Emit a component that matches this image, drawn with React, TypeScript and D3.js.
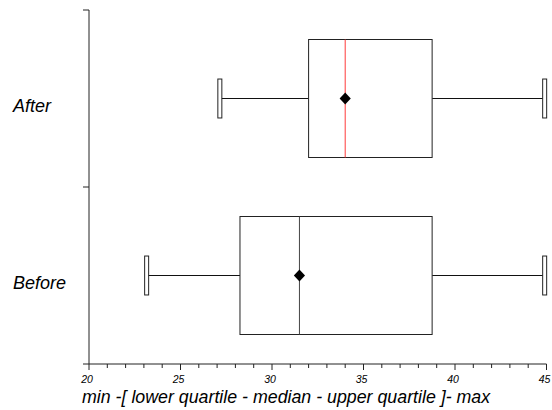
import * as d3 from "d3";

// one row per group, bottom to top in the picture
const groups = ["After", "Before"];
const mins = [27.15, 23.15];
const lowerQuartiles = [32.0, 28.25];
const medians = [34.0, 31.5];
const upperQuartiles = [38.75, 38.75];
const maxes = [44.9, 44.9];
const means = [34.0, 31.5];
const medianColors = ["#ff3b3b", "#444444"];

const xTicks = [20, 25, 30, 35, 40, 45];
const xMinorTicks = d3.range(20, 46, 1);

const width = 552;
const height = 410;
const left = 89;
const right = 546.5;
const top = 10;
const bottom = 364;

const App = () => {
  const x = d3.scaleLinear().domain([20, 45]).range([left, right]);
  const y = d3.scaleBand().domain(groups).range([top, bottom]);
  const band = y.bandwidth();
  const boxH = (band * 2) / 3;
  const capH = band * 0.22;
  const capW = 4;
  const diamond = d3.symbol().type(d3.symbolDiamond).size(75)();

  return (
    <svg
      width={width}
      height={height}
      style={{ position: "absolute", left: 0, top: 0, background: "#fff" }}
      fontFamily="'Liberation Sans', Arial, sans-serif"
    >
      {/* axes */}
      <line x1={left} x2={left} y1={top} y2={bottom} stroke="#222" />
      <line x1={left} x2={right} y1={bottom} y2={bottom} stroke="#222" />
      {[top, ...groups.map((g) => y(g)! + band)].map((v, i) => (
        <line key={i} x1={left - 6} x2={left} y1={v} y2={v} stroke="#222" />
      ))}
      {xMinorTicks.map((t) => (
        <line
          key={t}
          x1={x(t)}
          x2={x(t)}
          y1={bottom}
          y2={bottom + (t % 5 === 0 ? 6 : 4)}
          stroke="#222"
        />
      ))}
      {xTicks.map((t) => (
        <text
          key={t}
          x={x(t) - 2}
          y={383}
          fontSize={10.5}
          fontStyle="italic"
          textAnchor="middle"
        >
          {t}
        </text>
      ))}
      <text x={82} y={403} fontSize={17.8} fontStyle="italic">
        min -[ lower quartile - median - upper quartile ]- max
      </text>

      {groups.map((g, i) => {
        const cy = y(g)! + band / 2;
        return (
          <g key={g}>
            <text x={13} y={cy + 13} fontSize={18} fontStyle="italic">
              {g}
            </text>
            <line
              x1={x(mins[i])}
              x2={x(lowerQuartiles[i])}
              y1={cy}
              y2={cy}
              stroke="#111"
            />
            <line
              x1={x(upperQuartiles[i])}
              x2={x(maxes[i])}
              y1={cy}
              y2={cy}
              stroke="#111"
            />
            {[mins[i], maxes[i]].map((v, j) => (
              <rect
                key={j}
                x={x(v) - capW / 2}
                y={cy - capH / 2}
                width={capW}
                height={capH}
                fill="#fff"
                stroke="#222"
              />
            ))}
            <rect
              x={x(lowerQuartiles[i])}
              y={cy - boxH / 2}
              width={x(upperQuartiles[i]) - x(lowerQuartiles[i])}
              height={boxH}
              fill="#fff"
              stroke="#222"
            />
            <line
              x1={x(medians[i])}
              x2={x(medians[i])}
              y1={cy - boxH / 2}
              y2={cy + boxH / 2}
              stroke={medianColors[i]}
            />
            <path
              d={diamond!}
              transform={`translate(${x(means[i])},${cy}) scale(1.2,0.76)`}
              fill="#000"
            />
          </g>
        );
      })}
    </svg>
  );
};

export default App;
